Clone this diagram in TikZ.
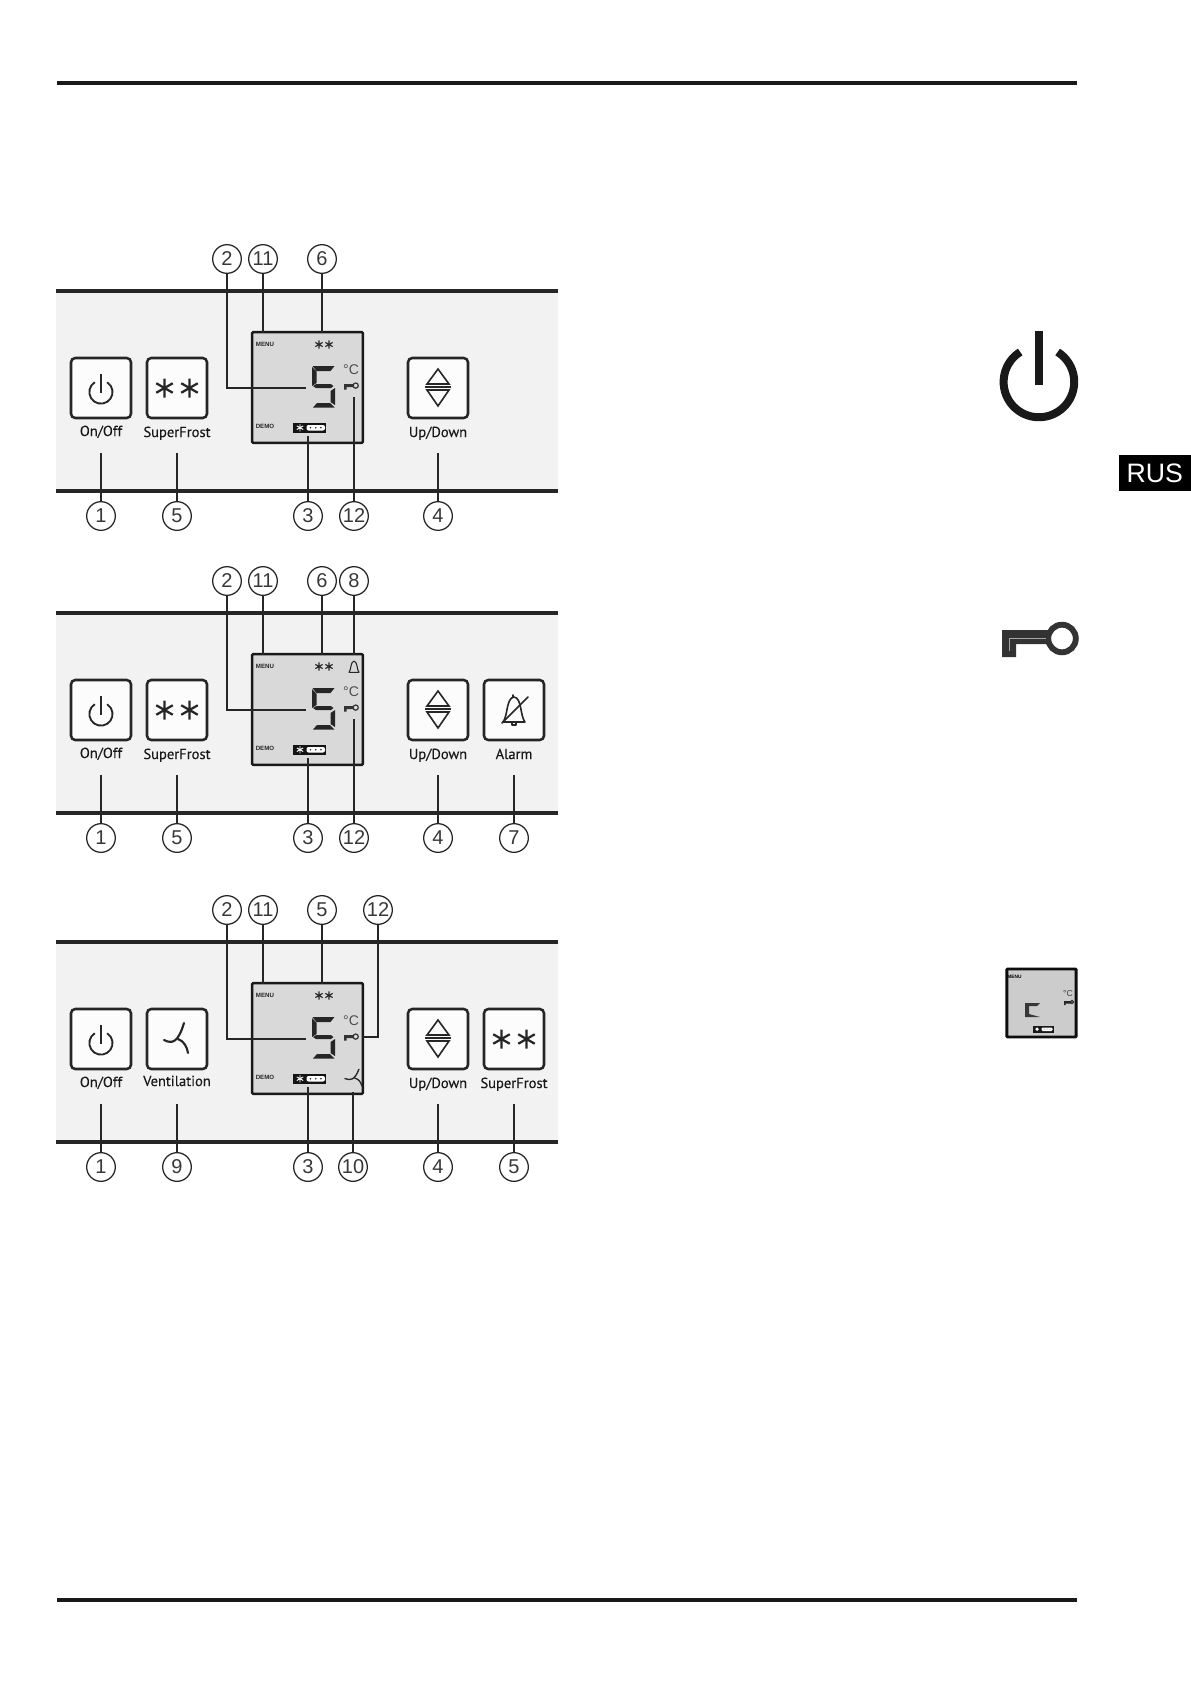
\documentclass[tikz,border=0pt]{standalone}
\usepackage{fontspec}
\setmainfont{Liberation Sans}
\newfontfamily\frlabel[FakeBold=0.2]{PT Sans}
\newcommand{\frfs}[1]{\fontsize{#1}{#1}\selectfont}
\tikzset{
  x=0.75pt,y=-0.75pt,
  rule/.style={draw=black!90,line width=2.5pt},
  panelfill/.style={fill=black!5,draw=none},
  panelline/.style={draw=black!85,line width=2.6pt},
  leader/.style={draw=black!85,line width=1.05pt},
  numcircle/.style={circle,draw=black!85,line width=0.95pt,minimum size=21.5pt,inner sep=0pt,fill=white,font=\frfs{15}\color{black!78}},
  btn/.style={rectangle,rounded corners=3.2pt,draw=black!85,line width=1.9pt,fill=black!1,minimum size=45pt,inner sep=0pt},
  btnlabel/.style={inner sep=0pt,anchor=base,font=\frlabel\frfs{10.9}\color{black!90}},
  icon/.style={draw=black!85,line width=1.4pt,line cap=round,line join=round},
  lcd/.style={rectangle,rounded corners=0.8pt,draw=black!90,line width=1.8pt,fill=black!15,minimum width=83pt,minimum height=83pt,inner sep=0pt},
  tiny/.style={inner sep=0pt,font=\bfseries\frfs{4.6}\color{black!85}},
  seg/.style={fill=black!85,draw=none},
}
\newcommand{\frstar}[4][1.7pt]{\draw[icon,line width=#1,line cap=butt] (#2,#3-#4) -- (#2,#3+#4)
  (#2-0.87*#4,#3-0.5*#4) -- (#2+0.87*#4,#3+0.5*#4) (#2-0.87*#4,#3+0.5*#4) -- (#2+0.87*#4,#3-0.5*#4);}
\newcommand{\frpower}{%
  \draw[icon,line cap=butt] (-6.2,-5.8) arc[start angle=-122,end angle=-418,radius=11.6];
  \draw[icon,line cap=butt] (0,-14) -- (0,5);}
\newcommand{\frupdown}{%
  \draw[icon,line width=1.2pt,line join=miter] (0,-19) -- (11,-4) -- (-11,-4) -- cycle;
  \draw[icon,line width=1.2pt,line join=miter] (-11,2) -- (11,2) -- (0,18) -- cycle;
  \draw[icon,line width=1.5pt,line cap=butt] (-13,-1) -- (13,-1);}
\newcommand{\frbell}{%
  \draw[icon,line width=1.2pt] (-11,12) .. controls (-6,6) and (-8,-12) .. (0,-13)
     .. controls (8,-12) and (6,6) .. (11,12) -- cycle;
  \draw[icon,line width=1.2pt] (-1,-15) -- (-1,-13) (-2,12) -- (-2,15) -- (2,15) -- (2,12);
  \draw[icon,line width=1.2pt] (-12,13) -- (14,-13);}
\newcommand{\frfan}[1][1.6pt]{%
  \draw[icon,line width=#1] (-13,1) .. controls (-5,5) and (1,4) .. (7,-16);
  \draw[icon,line width=#1] (1,0) .. controls (7,2) and (10,8) .. (11,14);}
\newcommand{\frfive}{%
  \fill[seg] (312.5,366) -- (334.5,366) -- (330.5,371) -- (316.5,371) -- cycle;
  \fill[seg] (312,367) -- (316.5,371.5) -- (316.5,383) -- (312,386) -- cycle;
  \fill[seg] (313,386) -- (316,384.2) -- (331,384.2) -- (333.5,386) -- (331,388) -- (316,388) -- cycle;
  \fill[seg] (335,388) -- (335,405) -- (330.5,402) -- (330.5,391) -- cycle;
  \fill[seg] (313,407.5) -- (334.5,407.5) -- (330,403) -- (317,403) -- cycle;}
\newcommand{\frsmallkey}{%
  \fill[black!80] (344,384) rectangle (353,387) (344,384) rectangle (346.5,389.5);
  \draw[black!80,line width=0.9pt] (355.7,385.6) circle[radius=2.6];}
\newcommand{\frbattery}{%
  \fill[black!92] (293,423) rectangle (326,432.5);
  \fill[white,rounded corners=1.5pt] (306.5,425) rectangle (325,430.5);
  \fill[black!80] (310.5,427.7) circle[radius=0.9] (315.7,427.7) circle[radius=0.9] (320.9,427.7) circle[radius=0.9];
  \draw[white,line width=0.7pt] (300,424) -- (300,431.4) (296.8,425.9) -- (303.2,429.5) (296.8,429.5) -- (303.2,425.9);}
\newcommand{\frbase}{%
  \fill[panelfill] (56,291) rectangle (558,491);
  \draw[panelline] (56,291) -- (558,291);
  \draw[panelline] (56,491) -- (558,491);
  \node[lcd] (lcd) at (307.5,387.5) {};
  \node[tiny] (menu) at (265,344.5) {MENU};
  \node[tiny] (demo) at (265,426.5) {DEMO};
  \frstar[0.85pt]{319}{344.5}{4.2}
  \frstar[0.85pt]{329}{344.5}{4.2}
  \frfive
  \node[inner sep=0pt,font=\frfs{10.5}\color{black!70}] (deg) at (351,370) {°C};
  \frsmallkey
  \frbattery
  \coordinate (dig) at (306,388);
  \coordinate (menuT) at (263,333);
  \coordinate (starT) at (322,333);
  \coordinate (batB) at (308,436);
}
\newcommand{\frbtn}[5]{%
  \node[btn] (#1) at (#2,388) {};
  \begin{scope}[shift={(#2,388)}]#4\end{scope}
  \node[btnlabel] (#1L) at (#2,#5) {#3};
}
\newcommand{\frnum}[4]{\node[numcircle] (#1) at (#2,#3) {#4};}
\newcommand{\frtwostars}{\frstar{-12.5}{0}{9.5}\frstar{12.5}{0}{9.5}}
\begin{document}
\begin{tikzpicture}
\useasboundingbox (0,0) rectangle (1191,1684);
\fill[white] (0,0) rectangle (1191,1684);
\draw[rule] (57,83) -- (1077,83);
\draw[rule] (57,1600) -- (1077,1600);

\begin{scope}[shift={(0,0)},name prefix=a-]
\frbase
\frbtn{onoff}{101}{On/Off}{\frpower}{436}
\frbtn{sf}{177}{SuperFrost}{\frtwostars}{437}
\frbtn{ud}{438}{Up/Down}{\frupdown}{437}
\frnum{n2}{227}{259}{2}\frnum{n11}{263}{259}{11}\frnum{n6}{322}{259}{6}
\frnum{n1}{101}{516}{1}\frnum{n5}{177}{516}{5}\frnum{n3}{308}{516}{3}\frnum{n12}{354}{516}{12}\frnum{n4}{438}{516}{4}
\coordinate (t1) at (101,453);\coordinate (t5) at (177,453);\coordinate (t4) at (438,453);\coordinate (t12) at (354,397);
\draw[leader] (n2) |- (dig);
\draw[leader] (n11) -- (menuT);
\draw[leader] (n6) -- (starT);
\draw[leader] (n1) -- (t1);
\draw[leader] (n5) -- (t5);
\draw[leader] (n3) -- (batB);
\draw[leader] (n12) -- (t12);
\draw[leader] (n4) -- (t4);
\end{scope}

\begin{scope}[shift={(0,322)},name prefix=b-]
\frbase
\frbtn{onoff}{101}{On/Off}{\frpower}{436}
\frbtn{sf}{177}{SuperFrost}{\frtwostars}{437}
\frbtn{ud}{438}{Up/Down}{\frupdown}{437}
\frbtn{al}{514}{Alarm}{\frbell}{437}
\begin{scope}[shift={(354,345)},scale=0.45]
\draw[icon,line width=0.8pt] (-11,12) .. controls (-6,6) and (-8,-12) .. (0,-13)
     .. controls (8,-12) and (6,6) .. (11,12) -- cycle;
\end{scope}
\frnum{n2}{227}{259}{2}\frnum{n11}{263}{259}{11}\frnum{n6}{322}{259}{6}\frnum{n8}{354}{259}{8}
\frnum{n1}{101}{516}{1}\frnum{n5}{177}{516}{5}\frnum{n3}{308}{516}{3}\frnum{n12}{354}{516}{12}\frnum{n4}{438}{516}{4}\frnum{n7}{514}{516}{7}
\coordinate (t1) at (101,453);\coordinate (t5) at (177,453);\coordinate (t4) at (438,453);\coordinate (t7) at (514,453);\coordinate (t12) at (354,397);\coordinate (t8) at (354,333);
\draw[leader] (n2) |- (dig);
\draw[leader] (n11) -- (menuT);
\draw[leader] (n6) -- (starT);
\draw[leader] (n8) -- (t8);
\draw[leader] (n1) -- (t1);
\draw[leader] (n5) -- (t5);
\draw[leader] (n3) -- (batB);
\draw[leader] (n12) -- (t12);
\draw[leader] (n4) -- (t4);
\draw[leader] (n7) -- (t7);
\end{scope}

\begin{scope}[shift={(0,651)},name prefix=c-]
\frbase
\frbtn{onoff}{101}{On/Off}{\frpower}{436}
\frbtn{ve}{177}{Ventilation}{\frfan}{435}
\frbtn{ud}{438}{Up/Down}{\frupdown}{437}
\frbtn{sf}{514}{SuperFrost}{\frtwostars}{437}
\begin{scope}[shift={(354,427)},xscale=0.7,yscale=0.55]\frfan[1pt]\end{scope}
\frnum{n2}{227}{259}{2}\frnum{n11}{263}{259}{11}\frnum{n5t}{322}{259}{5}\frnum{n12}{378}{259}{12}
\frnum{n1}{101}{516}{1}\frnum{n9}{177}{516}{9}\frnum{n3}{308}{516}{3}\frnum{n10}{353}{516}{10}\frnum{n4}{438}{516}{4}\frnum{n5}{514}{516}{5}
\coordinate (t1) at (101,453);\coordinate (t9) at (177,453);\coordinate (t4) at (438,453);\coordinate (t5) at (514,453);\coordinate (t10) at (353,441);\coordinate (t12) at (363,386);
\draw[leader] (n2) |- (dig);
\draw[leader] (n11) -- (menuT);
\draw[leader] (n5t) -- (starT);
\draw[leader] (n12) |- (t12);
\draw[leader] (n1) -- (t1);
\draw[leader] (n9) -- (t9);
\draw[leader] (n3) -- (batB);
\draw[leader] (n10) -- (t10);
\draw[leader] (n4) -- (t4);
\draw[leader] (n5) -- (t5);
\end{scope}

\draw[black!90,line width=6pt] (1020.2,352) arc[start angle=-122,end angle=-418,radius=35.3];
\fill[black!90] (1035,331) rectangle (1043,385);

\fill[black!80] (1002,630) -- (1050,630) -- (1050,644) -- (1016,644) -- (1016,657) -- (1002,657) -- cycle;
\draw[black!80,line width=4.4pt] (1062,638.5) circle[radius=13.8];
\draw[black!35,line width=0.7pt] (1046,638) -- (1009,638) -- (1009,651);

\node[rectangle,fill=black,minimum width=54pt,minimum height=27pt,inner sep=0pt,anchor=north east,text=white,font=\frfs{20}] (rus) at (1191,455) {RUS};

\node[rectangle,rounded corners=0.6pt,draw=black!95,line width=2.2pt,fill=black!20,minimum width=52pt,minimum height=51pt,inner sep=0pt] (thumb) at (1041.5,1003) {};
\node[inner sep=0pt,font=\bfseries\frfs{3.6}] (thmenu) at (1014.5,976.5) {MENU};
\node[inner sep=0pt,font=\frfs{6.5}\color{black!75}] (thdeg) at (1068,994) {°C};
\fill[black!85] (1064,1001) rectangle (1071,1003.5) (1064,1001) rectangle (1065.5,1005);
\draw[black!85,line width=0.8pt] (1072,1002) circle[radius=1.6];
\fill[black!78] (1025,1003) -- (1040,1003) -- (1037,1006) -- (1029,1006) -- (1029,1014) -- (1040,1017) -- (1025,1017) -- cycle;
\fill[black!90] (1033,1026) rectangle (1054,1032.5);
\fill[white,rounded corners=0.8pt] (1041.5,1027.5) rectangle (1052.5,1031);
\fill[black!60] (1044,1029.2) circle[radius=0.5] (1047,1029.2) circle[radius=0.5] (1050,1029.2) circle[radius=0.5];
\fill[white] (1037,1029.2) circle[radius=1.8];
\end{tikzpicture}
\end{document}
